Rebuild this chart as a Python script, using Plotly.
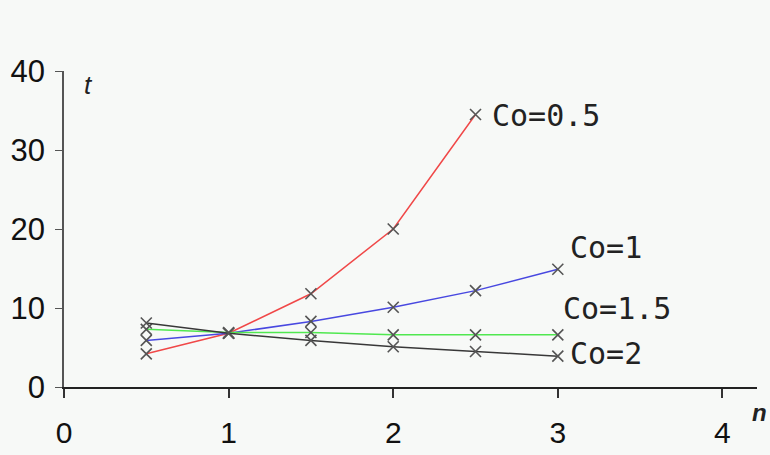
import plotly.graph_objects as go

n_vals = [0.5, 1.0, 1.5, 2.0, 2.5, 3.0]
t_co05 = [4.2, 6.8, 11.8, 20.0, 34.5]
t_co1 = [5.9, 6.8, 8.3, 10.1, 12.2, 14.9]
t_co15 = [7.3, 6.9, 6.9, 6.6, 6.6, 6.6]
t_co2 = [8.1, 6.8, 5.9, 5.1, 4.5, 3.9]

series_names = ["Co=0.5", "Co=1", "Co=1.5", "Co=2"]
series_values = [t_co05, t_co1, t_co15, t_co2]
series_colors = ["#f04848", "#4848e0", "#50e850", "#383838"]
label_pos = [(2.59, 34.4), (3.06, 17.6), (3.02, 10.0), (3.06, 4.3)]

x_ticks = [0, 1, 2, 3, 4]
y_ticks = [0, 10, 20, 30, 40]

fig = go.Figure()
for name, vals, col in zip(series_names, series_values, series_colors):
    fig.add_trace(go.Scatter(
        x=n_vals[:len(vals)], y=vals, mode="lines+markers", name=name,
        line=dict(color=col, width=1.5),
        marker=dict(symbol="x-thin", size=11, line=dict(color="#555555", width=1.6), color="#555555"),
        showlegend=False,
    ))

for name, (lx, ly) in zip(series_names, label_pos):
    fig.add_annotation(x=lx, y=ly, text=name, showarrow=False, xanchor="left", yanchor="middle",
                       font=dict(family="DejaVu Sans Mono", size=30, color="#222222"))

fig.add_annotation(xref="paper", yref="paper", x=0.035, y=1.01, text="<i>t</i>", showarrow=False,
                   xanchor="center", yanchor="top",
                   font=dict(family="Liberation Sans", size=26, color="#222"))
fig.add_annotation(xref="paper", yref="paper", x=1.003, y=-0.082, text="<b><i>n</i></b>", showarrow=False,
                   xanchor="center", yanchor="middle",
                   font=dict(family="Liberation Sans", size=24, color="#222"))

fig.update_layout(
    width=770, height=455,
    margin=dict(l=64, r=13, t=71, b=68),
    paper_bgcolor="#f7f9f7", plot_bgcolor="#f7f9f7",
    font=dict(family="Liberation Sans", size=32, color="#111"),
)
fig.update_xaxes(range=[0, 4.21], tickvals=x_ticks, showgrid=False, zeroline=False,
                 showline=True, linecolor="#222", linewidth=2, ticks="outside", ticklen=9,
                 tickcolor="#333", tickwidth=1.5, ticklabelstandoff=9, automargin=False,
                 tickfont=dict(size=30))
fig.update_yaxes(range=[0, 40], tickvals=y_ticks, showgrid=False, zeroline=False,
                 showline=True, linecolor="#555", linewidth=1.5, ticks="outside", ticklen=7,
                 tickcolor="#555", tickwidth=1.2, ticklabelstandoff=4, automargin=False,
                 tickfont=dict(size=31))

fig.write_html("out.html", config={"displayModeBar": False},
               post_script="document.body.style.margin='0';document.body.style.background='#f7f9f7';")
